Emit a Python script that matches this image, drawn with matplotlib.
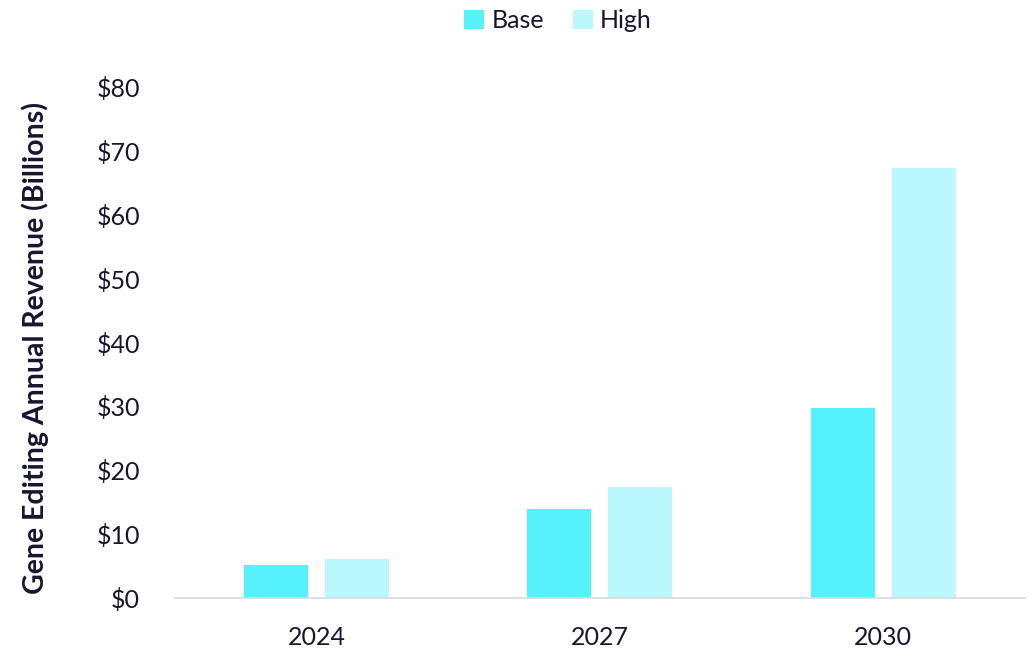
import matplotlib
matplotlib.use("Agg")
import matplotlib.pyplot as plt
import numpy as np

# データ
years = ["2024", "2027", "2030"]
base = [5.1, 13.9, 29.8]
high = [6.1, 17.4, 67.3]
yticks = [0, 10, 20, 30, 40, 50, 60, 70, 80]

# 設定
plt.rcParams["font.family"] = ["Lato", "DejaVu Sans"]
TEXT_COLOR = "#161630"
C_BASE = "#56F2FC"
C_HIGH = "#BBF8FE"

fig = plt.figure(figsize=(10.35, 6.5), dpi=100)
ax = fig.add_axes([0.169, 0.08, 0.821, 0.786])

x = np.arange(len(years))
w = 0.226
off = 0.143
ax.bar(x - off, base, width=w, color=C_BASE, label="Base")
ax.bar(x + off, high, width=w, color=C_HIGH, label="High")

ax.set_xlim(-0.5, 2.5)
ax.set_ylim(0, 80)
ax.set_xticks(x)
ax.set_xticklabels(years)
ax.set_yticks(yticks)
ax.set_yticklabels([f"${v}" for v in yticks])
ax.tick_params(axis="both", length=0, labelsize=18, colors=TEXT_COLOR)
ax.tick_params(axis="y", pad=25)
ax.tick_params(axis="x", pad=20)

for s in ["top", "right", "left"]:
    ax.spines[s].set_visible(False)
ax.spines["bottom"].set_color("#D9D9E0")
ax.spines["bottom"].set_linewidth(1.2)

ax.set_ylabel("Gene Editing Annual Revenue (Billions)", fontsize=20.5,
              fontweight="bold", color=TEXT_COLOR)
ax.yaxis.set_label_coords(-0.148, 0.49)

leg = fig.legend(loc="upper center", bbox_to_anchor=(0.539, 1.02), ncol=2,
                 frameon=False, fontsize=18, handlelength=0.8, handleheight=0.8,
                 handletextpad=0.3, columnspacing=1.15)
for t in leg.get_texts():
    t.set_color(TEXT_COLOR)

fig.savefig("out.png", dpi=100)
